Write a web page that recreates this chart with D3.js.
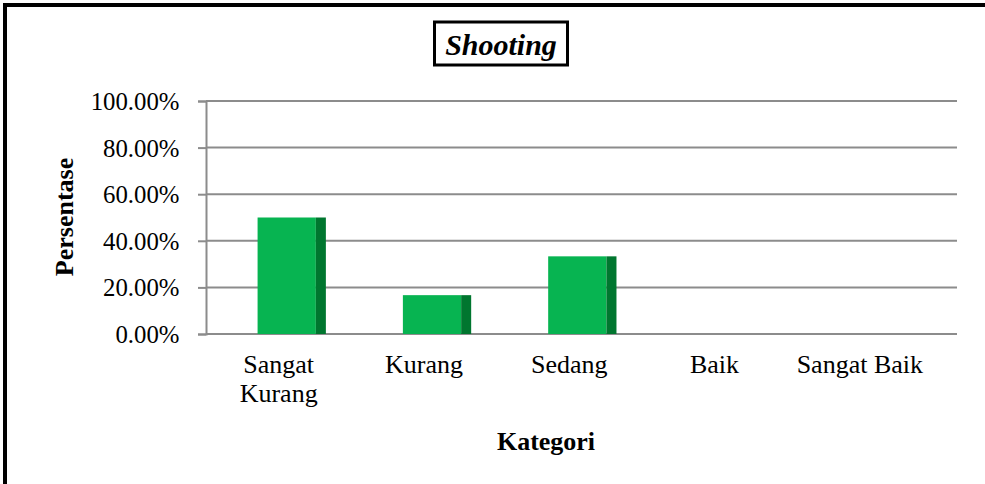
<!DOCTYPE html>
<html>
<head>
<meta charset="utf-8">
<script src="https://cdn.jsdelivr.net/npm/d3@7"></script>
<style>
  html, body { margin: 0; padding: 0; background: #fff; }
  svg { display: block; }
  svg text { font-family: "Liberation Serif", "Times New Roman", serif; fill: #000; }
</style>
</head>
<body>
<svg id="chart" width="985" height="484"></svg>
<script>
const categories = ["Sangat Kurang", "Kurang", "Sedang", "Baik", "Sangat Baik"];
const values = [0.5, 0.1667, 0.3333, 0, 0];
const yTicks = [0, 0.2, 0.4, 0.6, 0.8, 1.0];
const titleText = "Shooting";
const yTitle = "Persentase";
const xTitle = "Kategori";

const svg = d3.select("#chart");
const W = 985, H = 484;

// outer frame (only left and top visible)
svg.append("path")
  .attr("d", `M5,${H + 10} L5,5 L${W + 10},5`)
  .attr("fill", "none").attr("stroke", "#000").attr("stroke-width", 4);

const plotLeft = 206, bandRight = 932.5, gridRight = 957;
const y = d3.scaleLinear().domain([0, 1]).range([334, 101]);
const x = d3.scaleBand().domain(categories).range([plotLeft, bandRight]).padding(0);

// gridlines
svg.append("g").selectAll("line").data(yTicks).join("line")
  .attr("x1", plotLeft).attr("x2", gridRight)
  .attr("y1", d => y(d)).attr("y2", d => y(d))
  .attr("stroke", "#8c8c8c").attr("stroke-width", 2);

// y axis
const yAxis = d3.axisLeft(y).tickValues(yTicks).tickSize(8)
  .tickFormat(d => (d * 100).toFixed(2) + "%");
const gy = svg.append("g").attr("transform", `translate(${plotLeft},0)`).call(yAxis);
gy.attr("font-family", null).attr("font-size", null);
gy.select(".domain").attr("stroke", "#8c8c8c").attr("stroke-width", 2);
gy.selectAll(".tick line").attr("stroke", "#8c8c8c").attr("stroke-width", 2);
gy.selectAll(".tick text")
  .attr("x", -26.5).attr("dy", null).attr("y", 8.5)
  .style("font-size", "24.8px");

// bars (front face + dark side face)
const bw = x.bandwidth();
const bars = svg.append("g").selectAll("g").data(categories.map((c, i) => ({c, v: values[i]}))).join("g");
bars.append("rect")
  .attr("x", d => x(d.c) + 0.355 * bw)
  .attr("width", 0.401 * bw)
  .attr("y", d => y(d.v))
  .attr("height", d => y(0) - y(d.v))
  .attr("fill", "#07b451");
bars.append("rect")
  .attr("x", d => x(d.c) + 0.756 * bw)
  .attr("width", 0.069 * bw)
  .attr("y", d => y(d.v))
  .attr("height", d => y(0) - y(d.v))
  .attr("fill", "#00762f");

// x category labels
const xl = svg.append("g").selectAll("text").data(categories).join("text")
  .attr("x", d => x(d) + bw / 2)
  .attr("y", 373)
  .attr("text-anchor", "middle")
  .style("font-size", "26px");
xl.each(function(d) {
  const t = d3.select(this);
  t.text(d);
  if (this.getComputedTextLength() > bw - 4) {
    t.text(null);
    d.split(" ").forEach((w, i) => {
      t.append("tspan").attr("x", x(d) + bw / 2).attr("dy", i === 0 ? 0 : 29).text(w);
    });
  }
});

// axis titles
svg.append("text").attr("transform", "translate(73,217) rotate(-90)")
  .attr("text-anchor", "middle").style("font-weight", "bold").style("font-size", "26px")
  .text(yTitle);
svg.append("text").attr("x", 546).attr("y", 450)
  .attr("text-anchor", "middle").style("font-weight", "bold").style("font-size", "26px")
  .text(xTitle);

// chart title with box
svg.append("rect").attr("x", 434.5).attr("y", 22).attr("width", 133).attr("height", 43)
  .attr("fill", "#fff").attr("stroke", "#000").attr("stroke-width", 3);
svg.append("text").attr("x", 501).attr("y", 55)
  .attr("text-anchor", "middle").style("font-weight", "bold").style("font-style", "italic")
  .style("font-size", "30px").text(titleText);
</script>
</body>
</html>
